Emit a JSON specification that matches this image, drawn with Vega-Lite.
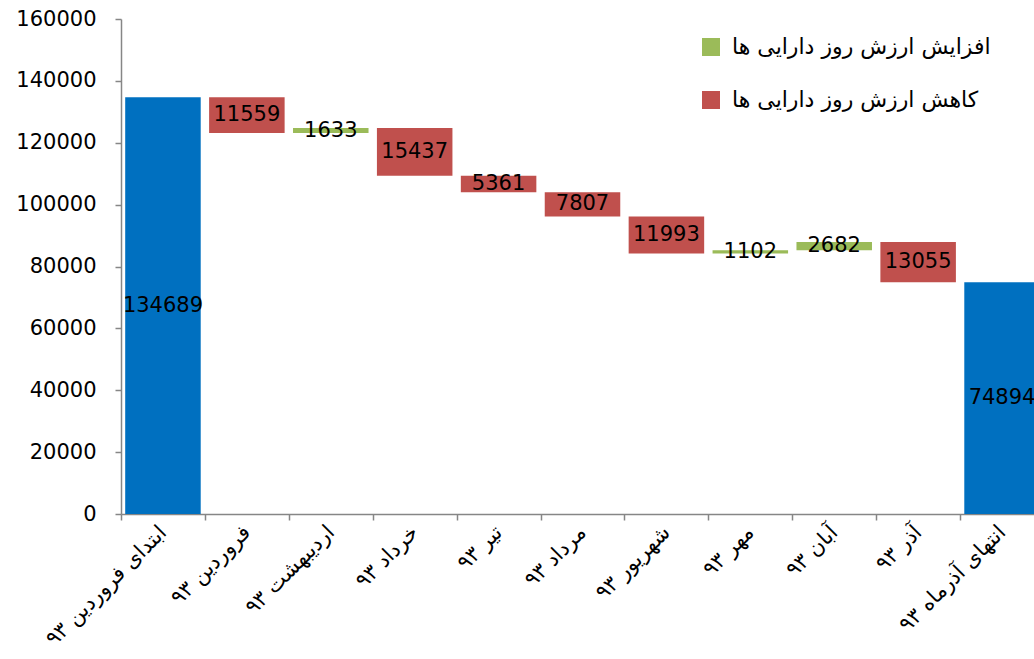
{
  "$schema": "https://vega.github.io/schema/vega-lite/v6.json",
  "autosize": {"type": "none"},
  "width": 913,
  "height": 495,
  "padding": {"left": 121, "top": 19, "right": 0, "bottom": 145},
  "background": "white",
  "config": {"view": {"stroke": null}},
  "data": {
    "values": [
      {"cat": "ابتدای فروردین ۹۳", "start": 0, "end": 134689, "type": "کل", "amount": 134689},
      {"cat": "فروردین ۹۳", "start": 134689, "end": 123130, "type": "کاهش ارزش روز دارایی ها", "amount": 11559},
      {"cat": "اردیبهشت ۹۳", "start": 123130, "end": 124763, "type": "افزایش ارزش روز دارایی ها", "amount": 1633},
      {"cat": "خرداد ۹۳", "start": 124763, "end": 109326, "type": "کاهش ارزش روز دارایی ها", "amount": 15437},
      {"cat": "تیر ۹۳", "start": 109326, "end": 103965, "type": "کاهش ارزش روز دارایی ها", "amount": 5361},
      {"cat": "مرداد ۹۳", "start": 103965, "end": 96158, "type": "کاهش ارزش روز دارایی ها", "amount": 7807},
      {"cat": "شهریور ۹۳", "start": 96158, "end": 84165, "type": "کاهش ارزش روز دارایی ها", "amount": 11993},
      {"cat": "مهر ۹۳", "start": 84165, "end": 85267, "type": "افزایش ارزش روز دارایی ها", "amount": 1102},
      {"cat": "آبان ۹۳", "start": 85267, "end": 87949, "type": "افزایش ارزش روز دارایی ها", "amount": 2682},
      {"cat": "آذر ۹۳", "start": 87949, "end": 74894, "type": "کاهش ارزش روز دارایی ها", "amount": 13055},
      {"cat": "انتهای آذرماه ۹۳", "start": 0, "end": 74894, "type": "کل", "amount": 74894}
    ]
  },
  "encoding": {
    "x": {
      "field": "cat", "type": "nominal", "sort": null,
      "scale": {"range": [0, 923], "paddingInner": 0, "paddingOuter": 0},
      "axis": {
        "title": null, "labelAngle": -45, "labelAlign": "right", "labelBaseline": "middle",
        "labelFont": "DejaVu Sans", "labelFontSize": 21, "labelColor": "#000000",
        "labelPadding": 9, "tickBand": "extent", "tickSize": 6, "tickColor": "#868686",
        "domainColor": "#868686", "domainWidth": 1.5, "tickWidth": 1.5, "grid": false, "labelLimit": 300
      }
    }
  },
  "layer": [
    {
      "mark": {"type": "bar", "width": {"band": 0.9}},
      "encoding": {
        "y": {
          "field": "start", "type": "quantitative",
          "scale": {"domain": [0, 160000], "nice": false},
          "axis": {
            "title": null, "values": [0, 20000, 40000, 60000, 80000, 100000, 120000, 140000, 160000],
            "format": "d",
            "labelFont": "DejaVu Sans", "labelFontSize": 21, "labelColor": "#000000",
            "labelPadding": 19, "tickSize": 6, "tickColor": "#868686", "domainColor": "#868686",
            "domainWidth": 1.5, "tickWidth": 1.5, "grid": false
          }
        },
        "y2": {"field": "end"},
        "color": {
          "field": "type", "type": "nominal",
          "scale": {
            "domain": ["افزایش ارزش روز دارایی ها", "کاهش ارزش روز دارایی ها", "کل"],
            "range": ["#9BBB59", "#C0504D", "#0070C0"]
          },
          "legend": {
            "title": null, "orient": "none", "legendX": 579, "legendY": 17,
            "values": ["افزایش ارزش روز دارایی ها", "کاهش ارزش روز دارایی ها"],
            "symbolType": "square", "symbolSize": 324, "symbolStrokeWidth": 0,
            "labelFont": "DejaVu Sans", "labelFontSize": 22, "labelColor": "#000000",
            "labelLimit": 400, "rowPadding": 31, "labelOffset": 10
          }
        }
      }
    },
    {
      "transform": [{"calculate": "(datum.start + datum.end) / 2", "as": "mid"}],
      "mark": {"type": "text", "font": "DejaVu Sans", "fontSize": 21, "color": "#000000", "baseline": "middle", "align": "center"},
      "encoding": {
        "y": {"field": "mid", "type": "quantitative"},
        "text": {"field": "amount", "type": "quantitative", "format": "d"}
      }
    }
  ]
}
